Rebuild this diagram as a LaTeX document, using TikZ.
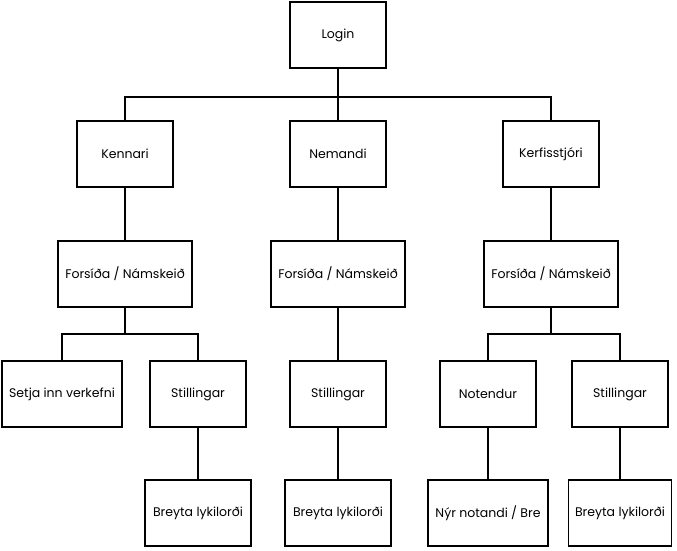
\documentclass[tikz,border=0pt]{standalone}
\usepackage{fontspec}
\setmainfont{Poppins}
\usepackage{tikz}
\usetikzlibrary{arrows.meta}

\begin{document}
\begin{tikzpicture}[x=1pt,y=-1pt,
  box/.style={draw=black,line width=1.8pt,fill=white,align=center,
    minimum width=96pt,minimum height=66pt,inner sep=1pt},
  wide/.style={box,minimum width=134pt},
  link/.style={line width=1.8pt,draw=black},
  every node/.style={font=\fontsize{12.5}{14}\selectfont}]
\useasboundingbox (0,0) rectangle (677,550);
% top
\node[box] (login) at (338,35) {Login};
\node[box] (kennari) at (125,154) {Kennari};
\node[box] (nemandi) at (338,154) {Nemandi};
\node[box] (kerfi) at (551,154) {Kerfisstjóri};
% forsidur
\node[wide] (forsK) at (125,274) {Forsíða / Námskeið};
\node[wide] (forsN) at (338,274) {Forsíða / Námskeið};
\node[wide] (forsA) at (551,274) {Forsíða / Námskeið};
% third row
\node[box,minimum width=120pt] (setja) at (62,394) {Setja inn verkefni};
\node[box] (stillK) at (198,394) {Stillingar};
\node[box] (stillN) at (338,394) {Stillingar};
\node[box] (notendur) at (488,394) {Notendur};
\node[box] (stillA) at (620,394) {Stillingar};
% bottom row
\node[box,minimum width=106pt] (breytaK) at (198,513) {Breyta lykilorði};
\node[box,minimum width=106pt] (breytaN) at (338,513) {Breyta lykilorði};
\node[box,minimum width=120pt] (nyr) at (488,513) {Nýr notandi / Bre};
\node[box,minimum width=103pt] (breytaA) at (620,513) {Breyta lykilorði};

% tree links
\draw[link] (login.south) -- ++(0,28) -| (kennari.north);
\draw[link] (login.south) -- (nemandi.north);
\draw[link] (login.south) -- ++(0,28) -| (kerfi.north);
\draw[link] (kennari.south) -- (forsK.north);
\draw[link] (nemandi.south) -- (forsN.north);
\draw[link] (kerfi.south) -- (forsA.north);
\draw[link] (forsK.south) -- ++(0,26) -| (setja.north);
\draw[link] (forsK.south) -- ++(0,26) -| (stillK.north);
\draw[link] (forsN.south) -- (stillN.north);
\draw[link] (forsA.south) -- ++(0,26) -| (notendur.north);
\draw[link] (forsA.south) -- ++(0,26) -| (stillA.north);
\draw[link] (stillK.south) -- (breytaK.north);
\draw[link] (stillN.south) -- (breytaN.north);
\draw[link] (notendur.south) -- (nyr.north);
\draw[link] (stillA.south) -- (breytaA.north);
\end{tikzpicture}
\end{document}
